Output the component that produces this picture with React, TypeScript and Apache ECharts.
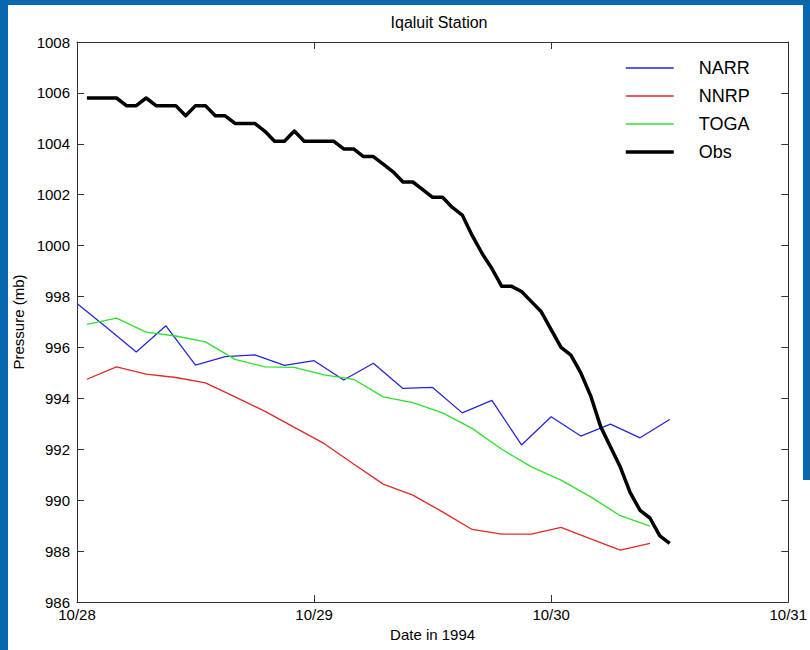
import React, { useEffect, useRef } from "react";
import * as echarts from "echarts";

// Time axis: hours since 10/28 00:00 (1994)
const dateLabels = ["10/28", "10/29", "10/30", "10/31"];
const yTicks = [986, 1008];

// Hourly observations, starting at hour 1
const obsStartHour = 1;
const obsValues = [
  1005.8, 1005.8, 1005.8, 1005.8, 1005.5, 1005.5, 1005.8, 1005.5, 1005.5, 1005.5,
  1005.1, 1005.5, 1005.5, 1005.1, 1005.1, 1004.8, 1004.8, 1004.8, 1004.5, 1004.1,
  1004.1, 1004.5, 1004.1, 1004.1, 1004.1, 1004.1, 1003.8, 1003.8, 1003.5, 1003.5,
  1003.2, 1002.9, 1002.5, 1002.5, 1002.2, 1001.9, 1001.9, 1001.5, 1001.2, 1000.4,
  999.7, 999.1, 998.4, 998.4, 998.2, 997.8, 997.4, 996.7, 996.0, 995.7,
  995.0, 994.1, 992.9, 992.1, 991.3, 990.3, 989.6, 989.3, 988.6, 988.3,
];

// 3-hourly model series
const narrStartHour = 0;
const narrValues = [
  997.73, 996.78, 995.82, 996.85, 995.31, 995.64, 995.71, 995.3, 995.48, 994.72,
  995.38, 994.39, 994.43, 993.43, 993.92, 992.17, 993.28, 992.52, 992.99, 992.45,
  993.17,
];
const nnrpStartHour = 1;
const nnrpValues = [
  994.75, 995.24, 994.95, 994.82, 994.61, 994.06, 993.5, 992.86, 992.23, 991.42,
  990.63, 990.2, 989.54, 988.85, 988.67, 988.67, 988.93, 988.48, 988.04, 988.3,
];
const togaStartHour = 1;
const togaValues = [
  996.91, 997.15, 996.6, 996.45, 996.22, 995.53, 995.24, 995.22, 994.92, 994.75,
  994.06, 993.83, 993.43, 992.82, 992.0, 991.31, 990.79, 990.13, 989.39, 988.98,
];

const toPairs = (start: number, step: number, vals: number[]) =>
  vals.map((v, i) => [start + i * step, v]);

const FONT = "'Liberation Sans', Arial, Helvetica, sans-serif";
const BLUE_FRAME = "#0767b1";

export default function App() {
  const ref = useRef<HTMLDivElement>(null);
  useEffect(() => {
    if (!ref.current) return;
    const chart = echarts.init(ref.current, undefined, { renderer: "svg" });
    const axisLine = { show: true, onZero: false, lineStyle: { color: "#333", width: 1 } };
    const tick = { show: true, inside: true, length: 7, lineStyle: { color: "#333", width: 1 } };
    chart.setOption({
      animation: false,
      backgroundColor: "#ffffff",
      textStyle: { fontFamily: FONT },
      title: {
        text: "Iqaluit Station",
        left: 434,
        textAlign: "center",
        top: 9,
        textStyle: { fontFamily: FONT, fontSize: 16, fontWeight: "normal", color: "#000" },
      },
      legend: {
        orient: "vertical",
        left: 624,
        top: 58,
        padding: 0,
        itemWidth: 48,
        itemHeight: 14,
        itemGap: 8,
        itemStyle: { opacity: 0 },
        textStyle: {
          fontFamily: FONT,
          fontSize: 18,
          color: "#000",
          lineHeight: 20,
          padding: [0, 0, 0, 20],
        },
        data: [
          { name: "NARR", lineStyle: { width: 1.5, opacity: 1 } },
          { name: "NNRP", lineStyle: { width: 1.5, opacity: 1 } },
          { name: "TOGA", lineStyle: { width: 1.5, opacity: 1 } },
          { name: "Obs", lineStyle: { width: 3.5, opacity: 1 } },
        ],
      },
      grid: { left: 77, right: 19, top: 42, bottom: 48, show: false },
      xAxis: [
        {
          type: "value",
          position: "bottom",
          min: 0,
          max: 72,
          interval: 24,
          axisLine,
          axisTick: tick,
          splitLine: { show: false },
          axisLabel: {
            fontFamily: FONT,
            fontSize: 15,
            color: "#000",
            margin: 5,
            formatter: (v: number) => dateLabels[Math.round(v / 24)] ?? "",
          },
          name: "Date in 1994",
          nameLocation: "middle",
          nameGap: 24,
          nameTextStyle: { fontFamily: FONT, fontSize: 15, color: "#000" },
        },
        {
          type: "value",
          position: "top",
          min: 0,
          max: 72,
          interval: 24,
          axisLine,
          axisTick: tick,
          splitLine: { show: false },
          axisLabel: { show: false },
        },
      ],
      yAxis: [
        {
          type: "value",
          position: "left",
          min: yTicks[0],
          max: yTicks[1],
          interval: 2,
          axisLine,
          axisTick: tick,
          splitLine: { show: false },
          axisLabel: {
            fontFamily: FONT,
            fontSize: 15,
            color: "#000",
            margin: 7,
            formatter: (v: number) => String(v),
          },
          name: "Pressure (mb)",
          nameLocation: "middle",
          nameGap: 50,
          nameTextStyle: { fontFamily: FONT, fontSize: 15, color: "#000" },
        },
        {
          type: "value",
          position: "right",
          min: yTicks[0],
          max: yTicks[1],
          interval: 2,
          axisLine,
          axisTick: tick,
          splitLine: { show: false },
          axisLabel: { show: false },
        },
      ],
      graphic: [
        { type: "rect", left: 0, top: 0, shape: { width: 810, height: 5 }, style: { fill: BLUE_FRAME }, silent: true },
        { type: "rect", left: 0, top: 0, shape: { width: 8, height: 650 }, style: { fill: BLUE_FRAME }, silent: true },
        { type: "rect", left: 803, top: 0, shape: { width: 7, height: 480 }, style: { fill: BLUE_FRAME }, silent: true },
      ],
      series: [
        {
          name: "NARR",
          type: "line",
          symbol: "none",
          data: toPairs(narrStartHour, 3, narrValues),
          lineStyle: { color: "#2626d9", width: 1.3 },
          itemStyle: { color: "#2626d9" },
          z: 2,
        },
        {
          name: "NNRP",
          type: "line",
          symbol: "none",
          data: toPairs(nnrpStartHour, 3, nnrpValues),
          lineStyle: { color: "#e02828", width: 1.3 },
          itemStyle: { color: "#e02828" },
          z: 2,
        },
        {
          name: "TOGA",
          type: "line",
          symbol: "none",
          data: toPairs(togaStartHour, 3, togaValues),
          lineStyle: { color: "#2ee02e", width: 1.3 },
          itemStyle: { color: "#2ee02e" },
          z: 2,
        },
        {
          name: "Obs",
          type: "line",
          symbol: "none",
          data: toPairs(obsStartHour, 1, obsValues),
          lineStyle: { color: "#000000", width: 3.5, join: "round" },
          itemStyle: { color: "#000000" },
          z: 3,
        },
      ],
    });
    return () => chart.dispose();
  }, []);
  return (
    <div style={{ position: "fixed", left: 0, top: 0, width: 810, height: 650 }}>
      <div ref={ref} style={{ width: 810, height: 650 }} />
    </div>
  );
}
